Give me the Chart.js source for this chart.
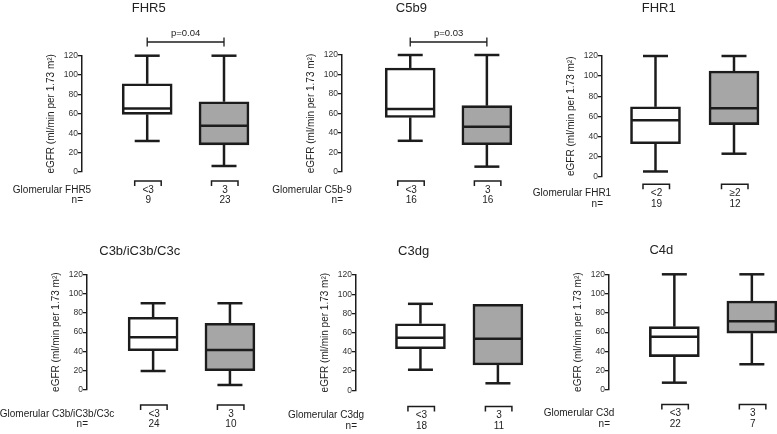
<!DOCTYPE html>
<html><head><meta charset="utf-8">
<script src="https://cdn.jsdelivr.net/npm/chart.js@4/dist/chart.umd.min.js"></script>
<style>
html,body{margin:0;padding:0;width:777px;height:434px;overflow:hidden;background:#fff}
body{position:relative}
canvas{position:absolute}
</style></head><body>
<script>
// ---------------- data ----------------
const panelTitles = ['FHR5', 'C5b9', 'FHR1', 'C3b/iC3b/C3c', 'C3dg', 'C4d'];
const rowLabels = ['Glomerular FHR5', 'Glomerular C5b-9', 'Glomerular FHR1', 'Glomerular C3b/iC3b/C3c', 'Glomerular C3dg', 'Glomerular C3d'];
const groupLabels = [['<3', '3'], ['<3', '3'], ['<2', '≥2'], ['<3', '3'], ['<3', '3'], ['<3', '3']];
const nCounts = [[9, 23], [16, 16], [19, 12], [24, 10], [18, 11], [22, 7]];
const whiskerLow = [[32, 6.2], [32, 5.5], [5, 22.7], [19.7, 5.2], [21.4, 7.3], [7.6, 26.7]];
const quartile1 = [[59.5, 28], [56, 28], [32.7, 51.7], [40.8, 20], [43.3, 26.3], [34.6, 59]];
const medians = [[65.5, 47.8], [64.6, 46.5], [56, 68], [54.7, 41.5], [54.7, 53.7], [55.3, 71.2]];
const quartile3 = [[91, 72.5], [106.7, 68], [69.4, 105], [75.4, 69.2], [69.3, 89.5], [65.7, 92.3]];
const whiskerHigh = [[120, 120], [120, 120], [120, 120], [90, 90], [90, 89.5], [120, 120]];
const pValues = ['p=0.04', 'p=0.03', null, null, null, null];
const groupPos = [1, 2];
const yMin = 0, yMax = 120, yStep = 20;
const yTitle = 'eGFR (ml/min per 1.73 m²)';
const nLabel = 'n=';

// ---------------- layout (page pixels) ----------------
const AXIS_W = 95, ROW_H = 217, BOX_W = 50, CAP_HALF = 12.5, RIGHT_EXTRA = 40;
const INK = '#1c1c1c', TEXT = '#222';
const FONT = '"Liberation Sans", Arial, Helvetica, sans-serif';
const fills = ['#ffffff', '#a6a6a6'];
const layout = [
  {row: 0, axisX: 82.3, top: 55.7, bottom: 172, c1: 147.5, c2: 224.3, bracketY: 181, titleX: 149, titleY: 8, pY: 42},
  {row: 0, axisX: 342.3, top: 55, bottom: 172, c1: 410.3, c2: 486.7, bracketY: 181, titleX: 411.7, titleY: 8, pY: 42},
  {row: 0, axisX: 602, top: 56, bottom: 176.5, c1: 655.5, c2: 734, bracketY: 184.3, titleX: 658.7, titleY: 8, pY: 42},
  {row: 1, axisX: 87.3, top: 274.3, bottom: 390, c1: 153.3, c2: 230, bracketY: 405, titleX: 140, titleY: 251, pY: 0},
  {row: 1, axisX: 355.7, top: 275, bottom: 390.3, c1: 420, c2: 497.3, bracketY: 406.5, titleX: 413.3, titleY: 251, pY: 0},
  {row: 1, axisX: 608.7, top: 274.3, bottom: 390, c1: 673.8, c2: 751, bracketY: 404.5, titleX: 661, titleY: 250, pY: 0}
];

function line(ctx, x1, y1, x2, y2) {
  ctx.beginPath(); ctx.moveTo(x1, y1); ctx.lineTo(x2, y2); ctx.stroke();
}

const extras = {
  id: 'boxExtras',
  afterDatasetsDraw(chart, args, opts) {
    const p = opts.panel;
    const g = layout[p];
    const ox = g.axisX - AXIS_W, oy = g.row * ROW_H;
    const xs = chart.scales.x, ys = chart.scales.y, ctx = chart.ctx;
    ctx.save();
    ctx.strokeStyle = INK;
    ctx.lineCap = 'butt';
    // whiskers + medians
    ctx.lineWidth = 2.5;
    groupPos.forEach((gp, i) => {
      const x = xs.getPixelForValue(gp);
      const yLo = ys.getPixelForValue(whiskerLow[p][i]);
      const yQ1 = ys.getPixelForValue(quartile1[p][i]);
      const yMd = ys.getPixelForValue(medians[p][i]);
      const yQ3 = ys.getPixelForValue(quartile3[p][i]);
      const yHi = ys.getPixelForValue(whiskerHigh[p][i]);
      if (yHi < yQ3 - 0.5) { line(ctx, x, yQ3, x, yHi); line(ctx, x - CAP_HALF, yHi, x + CAP_HALF, yHi); }
      if (yLo > yQ1 + 0.5) { line(ctx, x, yQ1, x, yLo); line(ctx, x - CAP_HALF, yLo, x + CAP_HALF, yLo); }
      line(ctx, x - BOX_W / 2 + 1, yMd, x + BOX_W / 2 - 1, yMd);
    });
    // title
    ctx.fillStyle = TEXT;
    ctx.textAlign = 'center';
    ctx.textBaseline = 'middle';
    ctx.font = '13px ' + FONT;
    ctx.fillText(panelTitles[p], g.titleX - ox, g.titleY - oy);
    // p value bracket
    if (pValues[p]) {
      const x1 = xs.getPixelForValue(groupPos[0]), x2 = xs.getPixelForValue(groupPos[1]);
      const y = g.pY - oy;
      ctx.lineWidth = 1.3;
      line(ctx, x1, y, x2, y);
      line(ctx, x1, y - 4.5, x1, y + 4.5);
      line(ctx, x2, y - 4.5, x2, y + 4.5);
      ctx.font = '9.5px ' + FONT;
      ctx.fillText(pValues[p], (x1 + x2) / 2, y - 9);
    }
    // group brackets and labels
    const by = g.bracketY - oy;
    ctx.lineWidth = 1.5;
    ctx.font = '10px ' + FONT;
    groupPos.forEach((gp, i) => {
      const x = xs.getPixelForValue(gp);
      ctx.beginPath();
      ctx.moveTo(x - 12.5, by + 5); ctx.lineTo(x - 12.5, by); ctx.lineTo(x + 14, by); ctx.lineTo(x + 14, by + 5);
      ctx.stroke();
      ctx.fillText(groupLabels[p][i], x + 1, by + 9);
      ctx.fillText(String(nCounts[p][i]), x + 1, by + 19.5);
    });
    const ax = AXIS_W;
    ctx.fillText(rowLabels[p], ax - 30, by + 9);
    ctx.textAlign = 'right';
    ctx.fillText(nLabel, ax + 1, by + 19.5);
    ctx.restore();
  }
};

layout.forEach((g, p) => {
  const canvasLeft = g.axisX - AXIS_W;
  const canvasTop = g.row * ROW_H;
  const W = Math.ceil(g.c2 + RIGHT_EXTRA - canvasLeft);
  const H = ROW_H;
  const cv = document.createElement('canvas');
  cv.width = W; cv.height = H;
  cv.style.left = canvasLeft + 'px';
  cv.style.top = canvasTop + 'px';
  cv.style.width = W + 'px'; cv.style.height = H + 'px';
  document.body.appendChild(cv);
  const s = g.c2 - g.c1;
  const xMin = groupPos[0] - (g.c1 - g.axisX) / s;
  const xMax = groupPos[1] + RIGHT_EXTRA / s;
  new Chart(cv, {
    type: 'bar',
    data: {
      datasets: [{
        data: groupPos.map((gp, i) => ({x: gp, y: [quartile1[p][i], quartile3[p][i]]})),
        backgroundColor: fills,
        borderColor: INK,
        borderWidth: 2.6,
        borderSkipped: false,
        barThickness: BOX_W
      }]
    },
    options: {
      responsive: false,
      animation: false,
      devicePixelRatio: 1,
      events: [],
      layout: {padding: {left: 0, right: 0, top: g.top - canvasTop, bottom: canvasTop + H - g.bottom}},
      plugins: {legend: {display: false}, tooltip: {enabled: false}, boxExtras: {panel: p}},
      scales: {
        x: {type: 'linear', display: false, min: xMin, max: xMax, offset: false},
        y: {
          min: yMin, max: yMax,
          ticks: {stepSize: yStep, color: '#333', font: {size: 8.5, family: FONT}, padding: 0},
          grid: {display: true, drawOnChartArea: false, drawTicks: true, tickLength: 4, color: INK, lineWidth: 1.3},
          border: {display: true, color: INK, width: 1.5},
          title: {display: true, text: yTitle, color: TEXT, font: {size: 10, family: FONT}, padding: {top: 58, bottom: 0}},
          afterFit(scale) { scale.width = AXIS_W; }
        }
      }
    },
    plugins: [extras]
  });
});
</script>
</body></html>
